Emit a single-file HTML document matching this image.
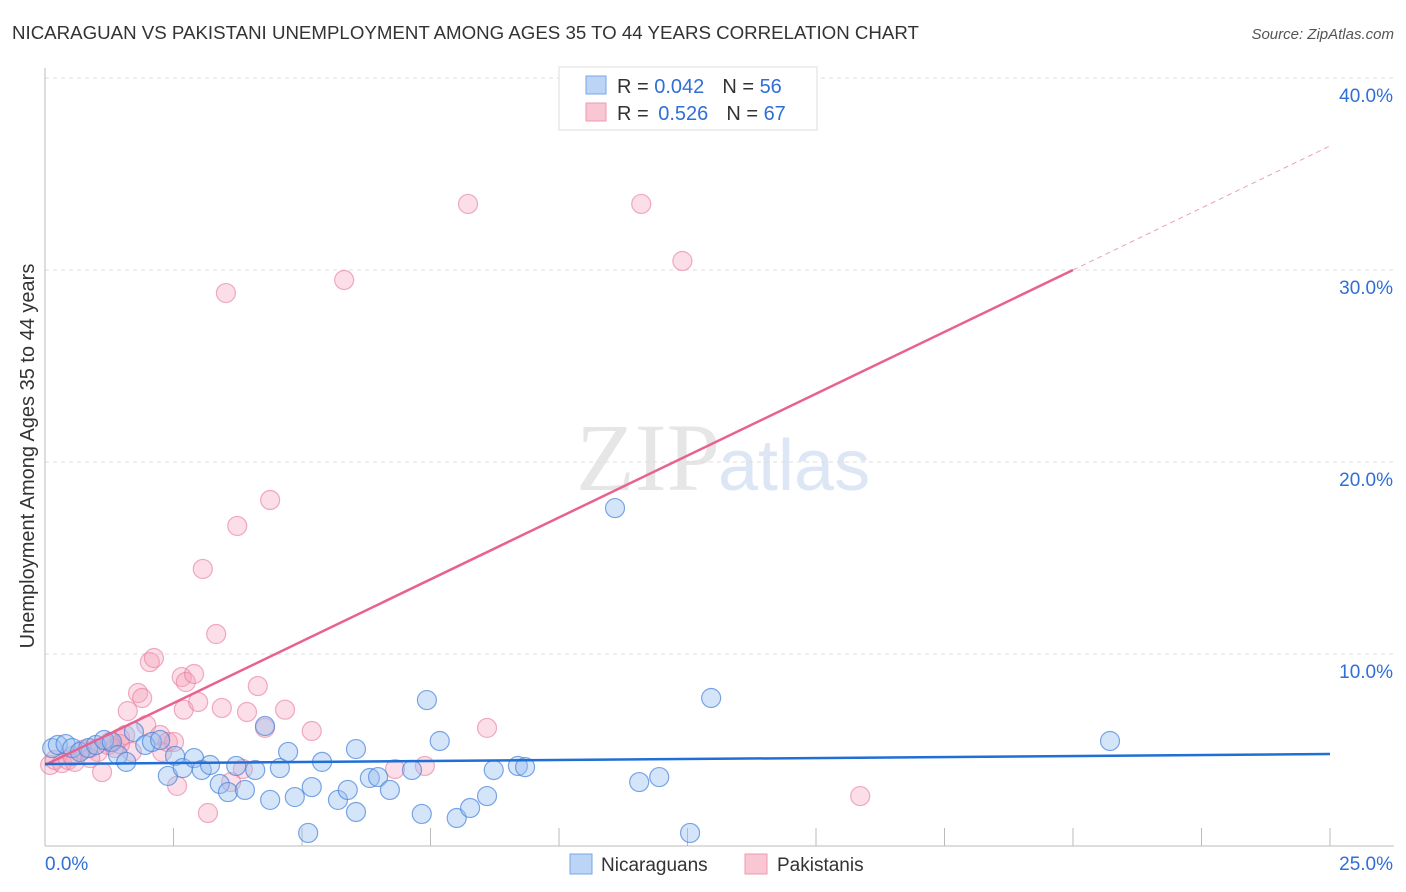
<!DOCTYPE html>
<html><head><meta charset="utf-8"><style>
body{margin:0;background:#fff;font-family:"Liberation Sans",sans-serif;}
svg{display:block}
</style></head><body>
<svg id="chart" width="1406" height="892" xmlns="http://www.w3.org/2000/svg">
<text x="12" y="39" font-size="18.7" fill="#333">NICARAGUAN VS PAKISTANI UNEMPLOYMENT AMONG AGES 35 TO 44 YEARS CORRELATION CHART</text>
<text x="1394" y="39" font-size="15" fill="#555" text-anchor="end" font-style="italic">Source: ZipAtlas.com</text>
<text x="720" y="490" font-size="96" fill="#e6e6e6" text-anchor="end" font-family="Liberation Serif,serif">ZIP</text>
<text x="718" y="490" font-size="72" fill="#dde6f5">atlas</text>
<g id="grid"></g>
<g id="axes"></g>
<g id="points"></g>
<g id="lines"></g>
<text transform="translate(34,456) rotate(-90)" font-size="20" fill="#333" text-anchor="middle">Unemployment Among Ages 35 to 44 years</text>
<g>
<rect x="559" y="67" width="258" height="63" fill="#fff" stroke="#ddd"/>
<rect x="586" y="76" width="20" height="18" fill="#bcd4f5" stroke="#7aa6e6"/>
<rect x="586" y="103" width="20" height="18" fill="#f9c6d4" stroke="#ee9ab2"/>
<text x="617" y="93" font-size="20" fill="#333">R = <tspan fill="#2f6fd6">0.042</tspan><tspan dx="18">N = </tspan><tspan fill="#2f6fd6">56</tspan></text>
<text x="617" y="120" font-size="20" fill="#333">R = <tspan fill="#2f6fd6" dx="4">0.526</tspan><tspan dx="18">N = </tspan><tspan fill="#2f6fd6">67</tspan></text>
</g>
<g>
<rect x="570" y="854" width="22" height="20" fill="#bcd4f5" stroke="#7aa6e6"/>
<text x="601" y="871" font-size="19" fill="#333">Nicaraguans</text>
<rect x="745" y="854" width="22" height="20" fill="#f9c6d4" stroke="#ee9ab2"/>
<text x="777" y="871" font-size="19" fill="#333">Pakistanis</text>
</g>
</svg>
<script>
const xTicks=[0,2.5,5,7.5,10,12.5,15,17.5,20,22.5,25];
const yTicks=[10,20,30,40];
const yTickLabels=["10.0%","20.0%","30.0%","40.0%"];
const blueX=[0.14,0.25,0.4,0.53,0.68,0.84,0.99,1.15,1.3,1.42,1.58,1.73,1.95,2.08,2.24,2.39,2.53,2.68,2.9,3.05,3.21,3.4,3.56,3.72,3.89,4.09,4.28,4.38,4.57,4.73,4.86,5.12,5.19,5.39,5.7,5.89,6.05,6.05,6.32,6.48,6.71,7.14,7.33,7.43,7.68,8.01,8.27,8.6,8.73,9.2,9.34,11.09,11.56,11.95,12.55,12.96,20.72];
const blueY=[5.1,5.26,5.31,5.1,4.9,5.1,5.26,5.52,5.42,4.74,4.38,5.94,5.26,5.42,5.52,3.65,4.69,4.06,4.58,3.96,4.22,3.23,2.81,4.17,2.92,3.96,6.25,2.4,4.06,4.9,2.55,0.68,3.07,4.38,2.4,2.92,5.05,1.77,3.54,3.59,2.92,3.96,1.67,7.6,5.47,1.46,1.98,2.6,3.96,4.17,4.11,17.6,3.33,3.59,0.68,7.71,5.47];
const pinkX=[0.1,0.19,0.33,0.45,0.58,0.72,0.88,1.03,1.11,1.23,1.36,1.46,1.56,1.61,1.69,1.81,1.89,1.97,2.04,2.12,2.24,2.28,2.39,2.51,2.57,2.66,2.74,2.9,2.7,2.98,3.07,3.17,3.33,3.44,3.52,3.62,3.74,3.85,3.93,4.14,4.28,4.38,4.67,5.19,5.82,6.81,7.39,8.23,8.6,11.6,12.4,15.86,1.46,1.26,0.53,0.88];
const pinkY=[4.22,4.48,4.32,4.48,4.38,5.0,5.1,4.9,3.85,5.26,5.1,5.62,5.78,7.03,4.9,7.97,7.71,6.3,9.58,9.79,5.78,4.9,5.42,5.42,3.13,8.8,8.54,8.96,7.1,7.5,14.43,1.72,11.04,7.19,28.8,3.33,16.67,4.01,6.98,8.33,6.15,18.02,7.1,5.99,29.48,4.01,4.17,33.44,6.15,33.44,30.47,2.6,5.31,5.42,4.69,4.58];
const trendPink=[[0,4.22],[20,30.0]];
const trendPinkExt=[[20,30.0],[25,36.46]];
const trendBlue=[[0,4.27],[25,4.79]];
const NS="http://www.w3.org/2000/svg";
const X=v=>45+v/25*1285, Y=v=>846-v*19.2;
function mk(tag,attrs,parent){const e=document.createElementNS(NS,tag);for(const k in attrs)e.setAttribute(k,attrs[k]);parent.appendChild(e);return e;}
const grid=document.getElementById('grid'),axes=document.getElementById('axes'),pts=document.getElementById('points'),lines=document.getElementById('lines');
yTicks.forEach((t,i)=>{
 const l=mk('line',{x1:45,x2:1394,y1:Y(t),y2:Y(t),stroke:'#ddd','stroke-dasharray':'4,4'},grid);
 
 
 const tx=mk('text',{x:1393,y:Y(t)+24,'font-size':19,fill:'#2f6fd6','text-anchor':'end'},axes);
 tx.textContent=yTickLabels[i];
 
 
});
const ax=mk('line',{x1:45,x2:1394,y1:846,y2:846,stroke:'#bbb'},axes);


const ay=mk('line',{x1:45,x2:45,y1:68,y2:846,stroke:'#bbb'},axes);


xTicks.forEach(t=>{
 const l=mk('line',{x1:X(t),x2:X(t),y1:828,y2:846,stroke:'#bbb'},axes);
 
 
});
const xl0=mk('text',{x:45,y:870,'font-size':19,fill:'#2f6fd6'},axes);xl0.textContent='0.0%';


const xl1=mk('text',{x:1393,y:870,'font-size':19,fill:'#2f6fd6','text-anchor':'end'},axes);xl1.textContent='25.0%';


pinkX.forEach((v,i)=>{
 const c=mk('circle',{cx:X(v),cy:Y(pinkY[i]),r:9.5,fill:'rgba(244,160,185,0.35)',stroke:'rgba(232,120,155,0.6)','stroke-width':1.2},pts);
 
 
});
blueX.forEach((v,i)=>{
 const c=mk('circle',{cx:X(v),cy:Y(blueY[i]),r:9.5,fill:'rgba(150,190,240,0.4)',stroke:'rgba(70,130,220,0.7)','stroke-width':1.2},pts);
 
 
});
const lp=mk('line',{x1:X(trendPink[0][0]),y1:Y(trendPink[0][1]),x2:X(trendPink[1][0]),y2:Y(trendPink[1][1]),stroke:'#e8628f','stroke-width':2.5},lines);


const lpe=mk('line',{x1:X(trendPinkExt[0][0]),y1:Y(trendPinkExt[0][1]),x2:X(trendPinkExt[1][0]),y2:Y(trendPinkExt[1][1]),stroke:'#eaa0b8','stroke-width':1,'stroke-dasharray':'5,4'},lines);


const lb=mk('line',{x1:X(trendBlue[0][0]),y1:Y(trendBlue[0][1]),x2:X(trendBlue[1][0]),y2:Y(trendBlue[1][1]),stroke:'#1f6fd6','stroke-width':2.5},lines);


</script>
</body></html>
